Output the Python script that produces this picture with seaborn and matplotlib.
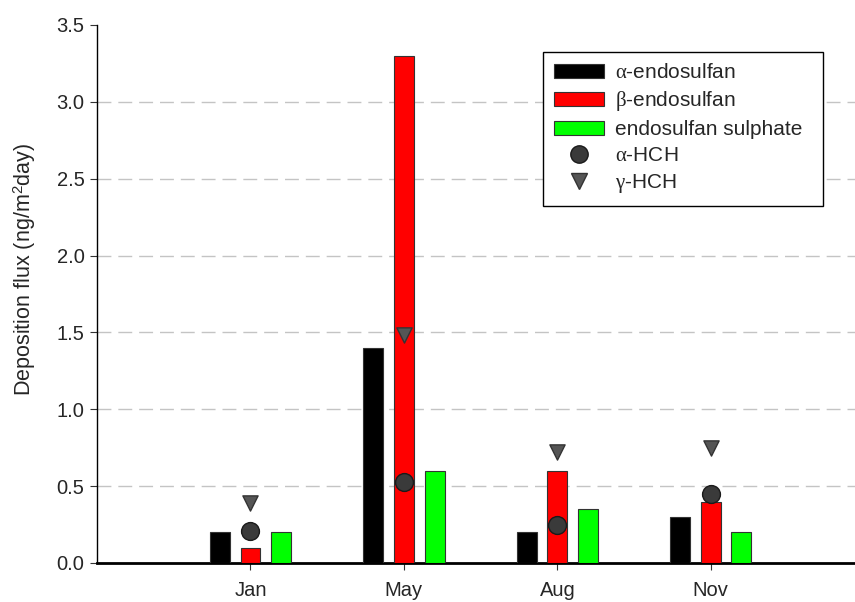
import numpy as np
import pandas as pd
import matplotlib
matplotlib.use("Agg")
import matplotlib.pyplot as plt
import seaborn as sns
from matplotlib.patches import Patch
from matplotlib.lines import Line2D

months = ["Jan", "May", "Aug", "Nov"]
alpha_endo = [0.2, 1.4, 0.2, 0.3]
beta_endo = [0.1, 3.3, 0.6, 0.4]
endo_sulph = [0.2, 0.6, 0.35, 0.2]
alpha_hch = [0.21, 0.53, 0.25, 0.45]
gamma_hch = [0.39, 1.48, 0.72, 0.75]

bar_names = ["$\\alpha$-endosulfan", "$\\beta$-endosulfan", "endosulfan sulphate"]
bar_colors = ["#000000", "#ff0000", "#00ff00"]
yticks = [0.0, 0.5, 1.0, 1.5, 2.0, 2.5, 3.0, 3.5]

sns.set_style("white")
plt.rcParams["font.family"] = ["Liberation Sans", "DejaVu Sans"]
plt.rcParams["mathtext.fontset"] = "custom"
plt.rcParams["mathtext.rm"] = "Liberation Sans"
plt.rcParams["mathtext.it"] = "Liberation Serif"
plt.rcParams["mathtext.bf"] = "Liberation Sans:bold"

df = pd.DataFrame({
    "month": np.repeat(months, 3),
    "compound": bar_names * len(months),
    "flux": np.ravel(np.column_stack([alpha_endo, beta_endo, endo_sulph])),
})

fig = plt.figure(figsize=(8.55, 6.02), dpi=100)
ax = fig.add_axes([0.1135, 0.0648, 0.8865, 0.8937])

sns.barplot(data=df, x="month", y="flux", hue="compound", order=months,
            hue_order=bar_names, palette=bar_colors, saturation=1,
            width=0.6, gap=0.35, edgecolor="#333333", linewidth=0.8, ax=ax,
            legend=False, errorbar=None, zorder=3)

pos = np.arange(len(months))
sns.scatterplot(x=pos, y=alpha_hch, marker="o", s=165, color="#3a3a3a",
                edgecolor="#1a1a1a", linewidth=1.0, ax=ax, zorder=4)
sns.scatterplot(x=pos, y=gamma_hch, marker="v", s=120, color="#555555",
                edgecolor="#333333", linewidth=1.0, ax=ax, zorder=4)

ax.set_xlim(-1.0, 3.94)
ax.set_ylim(0, 3.5)
ax.set_yticks(yticks)
ax.set_yticklabels([f"{v:.1f}" for v in yticks])
ax.set_xlabel("")
ax.set_ylabel("Deposition flux (ng/m$^2$day)", fontsize=15.5)
ax.yaxis.set_label_coords(-0.078, 0.545)

for v in yticks[1:-1]:
    ax.axhline(v, color="#c4c4c4", lw=1.0, ls=(0, (10, 5)), zorder=1)

for s in ["top", "right"]:
    ax.spines[s].set_visible(False)
ax.spines["left"].set_linewidth(1.0)
ax.spines["left"].set_color("black")
ax.spines["bottom"].set_linewidth(2.0)
ax.spines["bottom"].set_color("black")

ax.tick_params(axis="y", direction="out", length=5, width=0.8, color="#333333",
               labelsize=14.5, left=True, pad=4)
ax.tick_params(axis="x", direction="out", length=5, width=0.8, color="#333333",
               labelsize=14.5, bottom=True, pad=8)

handles = [Patch(facecolor=c, edgecolor="#333333", linewidth=0.8) for c in bar_colors]
handles += [
    Line2D([], [], ls="none", marker="o", markersize=12.5, markerfacecolor="#3a3a3a",
           markeredgecolor="#1a1a1a"),
    Line2D([], [], ls="none", marker="v", markersize=11, markerfacecolor="#555555",
           markeredgecolor="#333333"),
]
labels = bar_names + ["$\\alpha$-HCH", "$\\gamma$-HCH"]
leg = ax.legend(handles, labels, loc="upper left",
                bbox_to_anchor=(0.5884, 0.6, 0.3694, 0.3498), mode="expand",
                borderaxespad=0, fontsize=15, frameon=True, fancybox=False,
                edgecolor="black", framealpha=1, handlelength=2.4,
                handleheight=0.67, labelspacing=0.33, borderpad=0.55,
                handletextpad=0.5)
leg.get_frame().set_linewidth(1.0)

fig.savefig("out.png", dpi=100)
